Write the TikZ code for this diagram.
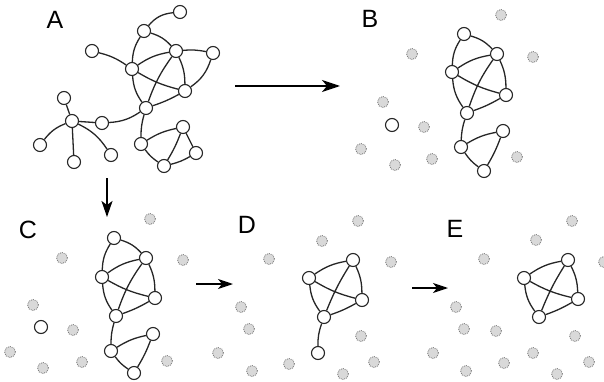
\documentclass[tikz,border=0pt]{standalone}
\usepackage{fontspec}
\setmainfont{Liberation Sans}
\usetikzlibrary{arrows.meta}
\tikzset{
  vtx/.style={circle, draw=black!85, fill=white, line width=1.1pt, minimum size=13pt, inner sep=0pt},
  ghost/.style={circle, draw=black!50, densely dotted, fill=black!15, line width=0.9pt, minimum size=11pt, inner sep=0pt},
  lnk/.style={draw=black!85, line width=1.3pt},
  stagearrow/.style={draw=black, line width=1.7pt, -{Stealth[length=18pt,width=12pt,inset=5pt]}},
  panel/.style={font=\fontsize{25}{25}\selectfont, inner sep=0pt}
}
\begin{document}
\begin{tikzpicture}[x=1pt,y=1pt]
\useasboundingbox (0,0) rectangle (604,-382);

% ---------- panel labels ----------
\node[panel] (LA) at (55,-20) {A};
\node[panel] (LB) at (370,-19) {B};
\node[panel] (LC) at (28,-230) {C};
\node[panel] (LD) at (247,-225) {D};
\node[panel] (LE) at (455,-229) {E};

% ---------- stage arrows ----------
\coordinate (ab1) at (235,-86);  \coordinate (ab2) at (340,-86);
\coordinate (ac1) at (107,-178); \coordinate (ac2) at (107,-217);
\coordinate (cd1) at (196,-284); \coordinate (cd2) at (233,-284);
\coordinate (de1) at (412,-288); \coordinate (de2) at (448,-288);
\draw[stagearrow] (ab1) -- (ab2);
\draw[stagearrow, -{Stealth[length=16pt,width=11pt,inset=4pt]}] (ac1) -- (ac2);
\draw[stagearrow, line width=1.5pt, -{Stealth[length=15pt,width=10pt,inset=4pt]}] (cd1) -- (cd2);
\draw[stagearrow, line width=1.5pt, -{Stealth[length=15pt,width=10pt,inset=4pt]}] (de1) -- (de2);

% ---------- A: full network ----------
\node[vtx] (a1) at (180,-12) {};
\node[vtx] (a2) at (144,-31) {};
\node[vtx] (a3) at (176,-51) {};
\node[vtx] (a4) at (213,-53) {};
\node[vtx] (a5) at (92,-51) {};
\node[vtx] (a6) at (132,-69) {};
\node[vtx] (a7) at (185,-91) {};
\node[vtx] (a8) at (146,-108) {};
\node[vtx] (a9) at (64,-98) {};
\node[vtx] (a10) at (72,-121) {};
\node[vtx] (a11) at (102,-123) {};
\node[vtx] (a12) at (40,-145) {};
\node[vtx] (a13) at (74,-162) {};
\node[vtx] (a14) at (111,-155) {};
\node[vtx] (a15) at (141,-144) {};
\node[vtx] (a16) at (183,-127) {};
\node[vtx] (a17) at (196,-153) {};
\node[vtx] (a18) at (164,-166) {};
\path[lnk]
  (a2) to[bend left=22] (a1)
  (a2) to[bend right=15] (a6)
  (a2) to[bend left=15] (a3)
  (a3) to[bend left=8] (a4)
  (a4) to[bend left=18] (a7)
  (a3) to[bend left=12] (a7)
  (a6) to[bend left=12] (a3)
  (a6) to[bend right=8] (a7)
  (a6) to[bend right=15] (a8)
  (a3) to[bend right=8] (a8)
  (a7) to[bend left=5] (a8)
  (a5) to[bend left=10] (a6)
  (a8) to[bend left=15] (a11)
  (a8) to[bend right=8] (a15)
  (a15) to[bend left=10] (a16)
  (a15) to[bend right=10] (a18)
  (a16) to[bend left=5] (a18)
  (a16) -- (a17)
  (a17) to[bend left=8] (a18)
  (a10) -- (a9)
  (a10) -- (a11)
  (a10) to[bend right=15] (a12)
  (a10) -- (a13)
  (a10) to[bend left=15] (a14);

% ---------- B ----------
\foreach \n/\x/\y in {g1/501/15, g2/412/54, g3/533/57, g4/383/102, g5/424/127,
                      g6/361/149, g7/395/165, g8/432/159, g9/517/157}
  \node[ghost] (B\n) at (\x,-\y) {};
\node[vtx] (b2) at (464,-34) {};
\node[vtx] (b3) at (497,-54) {};
\node[vtx] (b6) at (452,-72) {};
\node[vtx] (b7) at (506,-95) {};
\node[vtx] (b8) at (467,-113) {};
\node[vtx] (b15) at (461,-147) {};
\node[vtx] (b16) at (503,-131) {};
\node[vtx] (b18) at (484,-171) {};
\node[vtx] (b0) at (392,-125) {};
\path[lnk]
  (b2) to[bend right=15] (b6)
  (b2) to[bend left=15] (b3)
  (b6) to[bend left=12] (b3)
  (b6) to[bend right=8] (b7)
  (b6) to[bend right=15] (b8)
  (b3) to[bend left=12] (b7)
  (b3) to[bend right=8] (b8)
  (b7) to[bend left=5] (b8)
  (b8) to[bend right=8] (b15)
  (b15) to[bend left=10] (b16)
  (b15) to[bend right=10] (b18)
  (b16) to[bend left=5] (b18);

% ---------- C ----------
\foreach \n/\x/\y in {g1/150/219, g2/62/258, g3/183/260, g4/33/305, g5/73/330,
                      g6/10/352, g7/43/368, g8/82/362, g9/167/361}
  \node[ghost] (C\n) at (\x,-\y) {};
\node[vtx] (c2) at (114,-238) {};
\node[vtx] (c3) at (146,-258) {};
\node[vtx] (c6) at (102,-277) {};
\node[vtx] (c7) at (155,-298) {};
\node[vtx] (c8) at (116,-316) {};
\node[vtx] (c15) at (111,-351) {};
\node[vtx] (c16) at (153,-334) {};
\node[vtx] (c18) at (134,-373) {};
\node[vtx] (c0) at (41,-327) {};
\path[lnk]
  (c2) to[bend right=15] (c6)
  (c2) to[bend left=15] (c3)
  (c6) to[bend left=12] (c3)
  (c6) to[bend right=8] (c7)
  (c6) to[bend right=15] (c8)
  (c3) to[bend left=12] (c7)
  (c3) to[bend right=8] (c8)
  (c7) to[bend left=5] (c8)
  (c8) to[bend right=8] (c15)
  (c15) to[bend left=10] (c16)
  (c15) to[bend right=10] (c18)
  (c16) to[bend left=5] (c18);

% ---------- D ----------
\foreach \n/\x/\y in {g1/358/221, g2/322/241, g3/269/259, g4/391/262, g5/241/307,
                      g6/249/329, g7/361/336, g8/218/353, g9/252/371, g10/289/364,
                      g11/374/362, g12/343/374}
  \node[ghost] (D\n) at (\x,-\y) {};
\node[vtx] (d3) at (353,-260) {};
\node[vtx] (d6) at (309,-278) {};
\node[vtx] (d7) at (362,-300) {};
\node[vtx] (d8) at (324,-317) {};
\node[vtx] (d9) at (318,-353) {};
\path[lnk]
  (d6) to[bend left=12] (d3)
  (d6) to[bend right=8] (d7)
  (d6) to[bend right=15] (d8)
  (d3) to[bend left=12] (d7)
  (d3) to[bend right=5] (d8)
  (d7) to[bend left=5] (d8)
  (d8) to[bend right=10] (d9);

% ---------- E ----------
\foreach \n/\x/\y in {g1/572/221, g2/536/240, g3/484/259, g4/604/262, g5/456/307,
                      g6/464/329, g7/496/331, g8/575/336, g9/433/353, g10/533/353,
                      g11/466/371, g12/504/363, g13/589/362, g14/557/374}
  \node[ghost] (E\n) at (\x,-\y) {};
\node[vtx] (e3) at (568,-260) {};
\node[vtx] (e6) at (524,-278) {};
\node[vtx] (e7) at (578,-299) {};
\node[vtx] (e8) at (539,-317) {};
\path[lnk]
  (e6) to[bend left=12] (e3)
  (e6) to[bend right=8] (e7)
  (e6) to[bend right=15] (e8)
  (e3) to[bend left=12] (e7)
  (e3) to[bend right=5] (e8)
  (e7) to[bend left=5] (e8);
\end{tikzpicture}
\end{document}
